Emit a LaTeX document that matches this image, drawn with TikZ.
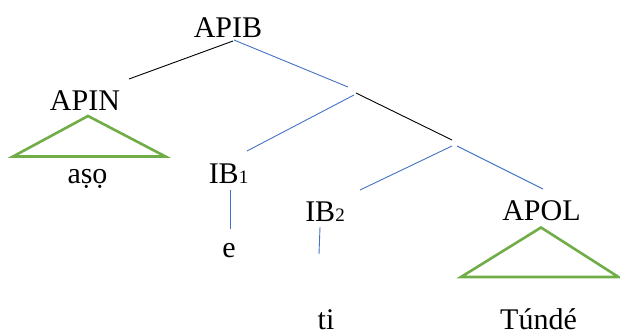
\documentclass[tikz,border=0pt]{standalone}
\usepackage{fontspec}
\setmainfont{Liberation Serif}
\definecolor{lblue}{HTML}{4472C4}
\definecolor{lgreen}{HTML}{70AD47}
\newcommand{\subn}[1]{{\fontsize{19}{22}\selectfont #1}}
\begin{document}
\begin{tikzpicture}[x=1pt,y=-1pt,
  lbl/.style={anchor=base,inner sep=0pt,font=\fontsize{30}{36}\selectfont},
  bl/.style={draw=lblue,line width=0.9pt},
  bk/.style={draw=black,line width=0.9pt},
  tri/.style={draw=lgreen,line width=2.6pt,line join=miter}]
\useasboundingbox (0,0) rectangle (620,332);
% labels
\node[lbl] (apib) at (228,37) {APIB};
\node[lbl] (apin) at (85,110) {APIN};
\node[lbl] (aso) at (87.5,183) {aṣọ};
\node[lbl] (ib1) at (228.5,183) {IB\subn{1}};
\node[lbl] (e) at (229,257) {e};
\node[lbl] (ib2) at (325,221) {IB\subn{2}};
\node[lbl] (ti) at (326,329.5) {ti};
\node[lbl] (apol) at (541.5,220) {APOL};
\node[lbl] (tunde) at (538.5,329.5) {Túndé};
% connector end points
\coordinate (apibL) at (233,41);
\coordinate (apibR) at (234,40);
\coordinate (apinT) at (129,79);
\coordinate (m1a) at (348,87);
\coordinate (m1b) at (354,95);
\coordinate (m1c) at (356,93);
\coordinate (ib1T) at (247,151);
\coordinate (m2a) at (452,140);
\coordinate (m2b) at (452,146);
\coordinate (m2c) at (457,146);
\coordinate (ib2T) at (360,190);
\coordinate (apolT) at (543,189);
\coordinate (ib1B) at (230,190);
\coordinate (eT) at (230,229);
\coordinate (ib2B) at (320,227);
\coordinate (tiT) at (319,254);
% connectors
\draw[bk] (apibL) -- (apinT);
\draw[bl] (apibR) -- (m1a);
\draw[bl] (m1b) -- (ib1T);
\draw[bk] (m1c) -- (m2a);
\draw[bl] (m2b) -- (ib2T);
\draw[bl] (m2c) -- (apolT);
\draw[bl] (ib1B) -- (eT);
\draw[bl] (ib2B) -- (tiT);
% triangles
\coordinate (t1a) at (88,116);
\coordinate (t1b) at (13,156.5);
\coordinate (t1c) at (165.5,156.5);
\draw[tri] (t1a) -- (t1b) -- (t1c) -- cycle;
\coordinate (t2a) at (541,227.5);
\coordinate (t2b) at (461,277);
\coordinate (t2c) at (618.5,277);
\draw[tri] (t2a) -- (t2b) -- (t2c) -- cycle;
\end{tikzpicture}
\end{document}
